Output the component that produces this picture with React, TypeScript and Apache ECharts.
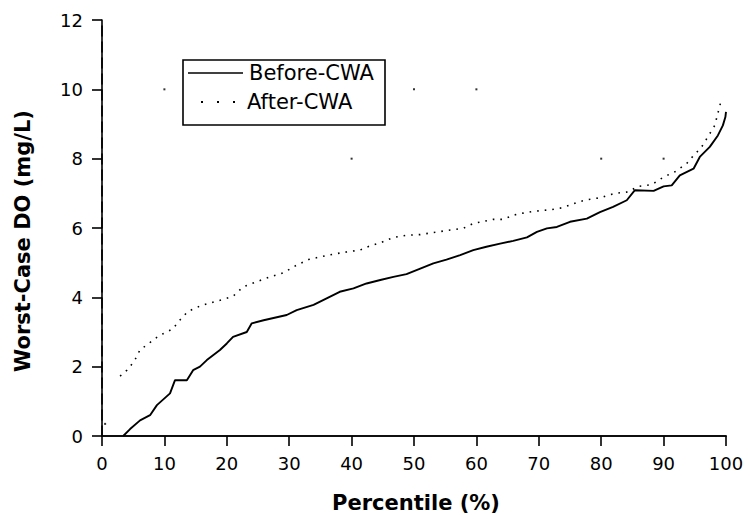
import React, { useEffect, useRef } from "react";
import * as echarts from "echarts";

// Cumulative distribution of worst-case dissolved oxygen, before and after the CWA
const beforePct = [
  3.4, 4.5, 6.1, 7.7, 8.8, 10.9, 11.7, 13.6, 14.6, 15.7, 16.8, 18.9, 20.0, 21.0, 23.2, 24.0,
  25.9, 29.6, 31.2, 33.9, 36.0, 38.1, 40.3, 42.4, 44.6, 46.7, 48.8, 51.0, 53.1, 55.2, 57.4,
  59.5, 61.6, 63.8, 65.9, 68.1, 69.7, 71.3, 72.9, 75.0, 77.7, 79.8, 81.9, 84.1, 85.4, 88.4,
  90.0, 91.3, 92.6, 94.8, 95.8, 97.4, 98.7, 99.5, 99.9, 100,
];
const beforeDO = [
  0.0, 0.2, 0.45, 0.6, 0.89, 1.23, 1.61, 1.61, 1.9, 2.0, 2.19, 2.48, 2.67, 2.86, 3.0, 3.25,
  3.34, 3.49, 3.63, 3.78, 3.97, 4.16, 4.26, 4.4, 4.5, 4.59, 4.67, 4.83, 4.98, 5.09, 5.22,
  5.36, 5.46, 5.55, 5.63, 5.73, 5.89, 5.99, 6.03, 6.18, 6.27, 6.46, 6.61, 6.8, 7.09, 7.07,
  7.2, 7.23, 7.52, 7.71, 8.05, 8.34, 8.67, 8.96, 9.2, 9.35,
];

const afterPct = [
  2.9, 4.0, 4.5, 5.6, 6.1, 7.2, 8.2, 9.3, 10.4, 11.4, 12.2, 13.8, 14.9, 15.7, 17.0, 19.4,
  21.0, 22.6, 24.8, 26.9, 29.1, 31.2, 33.1, 36.3, 39.2, 41.3, 42.9, 44.6, 46.7, 48.8, 51.0,
  53.1, 55.8, 57.9, 59.5, 62.7, 64.3, 65.9, 67.5, 69.1, 72.1, 73.9, 76.3, 77.9, 80.1, 81.1,
  82.7, 84.3, 85.9, 88.1, 90.0, 91.8, 93.7, 94.5, 96.1, 97.4, 98.2, 99.3,
];
const afterDO = [
  1.73, 1.9, 2.0, 2.29, 2.5, 2.62, 2.77, 2.91, 3.0, 3.1, 3.29, 3.6, 3.68, 3.75, 3.82, 3.94,
  4.03, 4.3, 4.45, 4.59, 4.71, 4.93, 5.09, 5.22, 5.31, 5.36, 5.48, 5.57, 5.73, 5.79, 5.81,
  5.87, 5.94, 5.99, 6.13, 6.25, 6.25, 6.37, 6.43, 6.48, 6.53, 6.59, 6.75, 6.82, 6.88, 6.95,
  7.01, 7.04, 7.2, 7.25, 7.47, 7.62, 7.86, 8.03, 8.34, 8.72, 8.96, 9.73,
];

// isolated specks on the plot
const speckPct = [0.5, 10, 50, 60, 40, 80, 90];
const speckDO = [0.35, 10, 10, 10, 8, 8, 8];

const seriesNames = ["Before-CWA", "After-CWA"];
const xTitle = "Percentile (%)";
const yTitle = "Worst-Case DO (mg/L)";

const FONT = "DejaVu Sans";

export default function App() {
  const ref = useRef<HTMLDivElement>(null);

  useEffect(() => {
    if (!ref.current) return;
    const chart = echarts.init(ref.current, undefined, { renderer: "svg" });
    const zip = (xs: number[], ys: number[]) => xs.map((x, i) => [x, ys[i]]);
    const axisLine = { show: true, lineStyle: { color: "#000", width: 1.6 } };
    const label = { color: "#000", fontFamily: FONT, fontSize: 18 };
    const tick = { show: true, inside: false, length: 10, lineStyle: { color: "#000", width: 1.6 } };

    // legend drawn as a boxed key: solid sample line and a three-dot sample
    const legendText = (text: string, x: number, y: number) => ({
      type: "text",
      x,
      y,
      z: 100,
      style: {
        text,
        fill: "#000",
        font: `21px "${FONT}"`,
        textAlign: "left",
        textVerticalAlign: "middle",
      },
    });
    const legendDot = (x: number) => ({
      type: "rect",
      z: 100,
      shape: { x: x - 1, y: 101, width: 2, height: 2 },
      style: { fill: "#000" },
    });

    chart.setOption({
      animation: false,
      backgroundColor: "#fff",
      grid: { left: 102, right: 24, top: 20, bottom: 83, containLabel: false },
      xAxis: [
        {
          type: "value",
          min: 0,
          max: 100,
          interval: 10,
          axisLine,
          axisTick: tick,
          axisLabel: { ...label, margin: 18 },
          splitLine: { show: false },
        },
        {
          type: "value",
          position: "top",
          min: 0,
          max: 100,
          axisLine,
          axisTick: { show: false },
          axisLabel: { show: false },
          splitLine: { show: false },
        },
      ],
      yAxis: [
        {
          type: "value",
          min: 0,
          max: 12,
          interval: 2,
          axisLine,
          axisTick: tick,
          axisLabel: { ...label, margin: 19 },
          splitLine: { show: false },
        },
        {
          type: "value",
          position: "right",
          min: 0,
          max: 12,
          axisLine: { show: true, lineStyle: { color: "#000", width: 1.6, type: [10, 6] } },
          axisTick: { show: false },
          axisLabel: { show: false },
          splitLine: { show: false },
        },
      ],
      graphic: [
        {
          type: "rect",
          z: 100,
          shape: { x: 183, y: 60, width: 202, height: 65 },
          style: { fill: "#fff", stroke: "#000", lineWidth: 1.6 },
        },
        {
          type: "line",
          z: 100,
          shape: { x1: 188, y1: 73, x2: 243, y2: 73 },
          style: { stroke: "#000", lineWidth: 1.6 },
        },
        legendDot(202),
        legendDot(218),
        legendDot(234),
        legendText(seriesNames[0], 249, 73),
        legendText(seriesNames[1], 247, 102),
        {
          type: "text",
          x: 416,
          y: 503,
          style: {
            text: xTitle,
            fill: "#000",
            font: `bold 21px "${FONT}"`,
            textAlign: "center",
            textVerticalAlign: "middle",
          },
        },
        {
          type: "text",
          x: 23,
          y: 241,
          rotation: Math.PI / 2,
          style: {
            text: yTitle,
            fill: "#000",
            font: `bold 21px "${FONT}"`,
            textAlign: "center",
            textVerticalAlign: "middle",
          },
        },
      ],
      series: [
        {
          name: seriesNames[0],
          type: "line",
          data: zip(beforePct, beforeDO),
          symbol: "none",
          showSymbol: false,
          lineStyle: { color: "#000", width: 1.9 },
          itemStyle: { color: "#000" },
        },
        {
          name: seriesNames[1],
          type: "line",
          data: zip(afterPct, afterDO),
          symbol: "none",
          showSymbol: false,
          lineStyle: { color: "#000", width: 1.6, type: [1.6, 6] },
          itemStyle: { color: "#000" },
        },
        {
          name: "specks",
          type: "scatter",
          data: zip(speckPct, speckDO),
          symbol: "rect",
          symbolSize: 2,
          itemStyle: { color: "#000" },
        },
      ],
    });
    return () => chart.dispose();
  }, []);

  return (
    <div
      ref={ref}
      style={{ position: "fixed", left: 0, top: 0, width: 750, height: 519, background: "#fff" }}
    />
  );
}
